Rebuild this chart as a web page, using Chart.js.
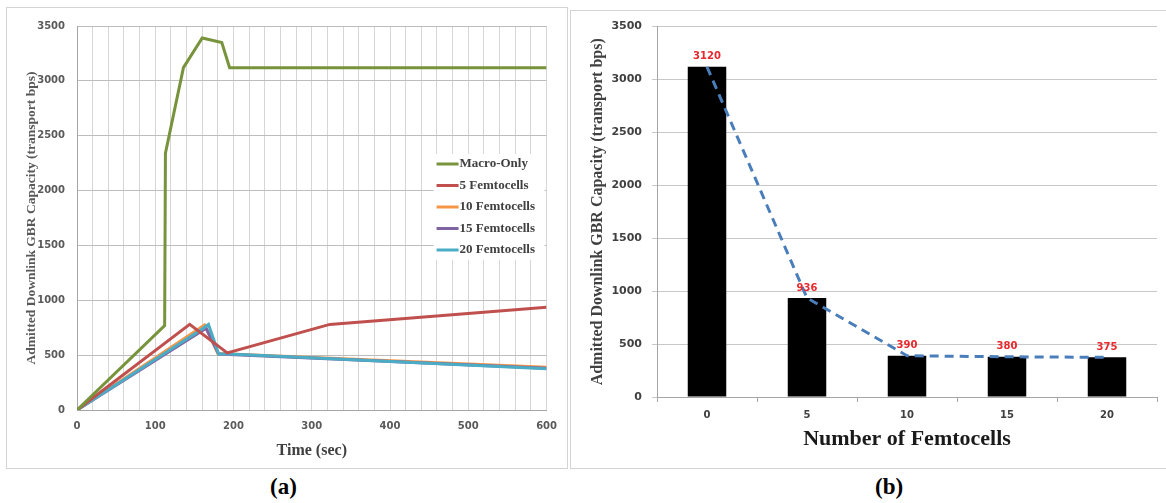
<!DOCTYPE html>
<html>
<head>
<meta charset="utf-8">
<script src="https://cdn.jsdelivr.net/npm/chart.js@4.4.1/dist/chart.umd.min.js"></script>
<style>
  body { margin: 0; background: #fff; width: 1166px; height: 503px; position: relative; overflow: hidden; }
  .box { position: absolute; border: 1px solid #d4d4d4; }
  canvas { position: absolute; }
  .cap { position: absolute; font: bold 23px 'Liberation Serif', serif; color: #000; }
</style>
</head>
<body>
<div class="box" style="left:6px;top:7px;width:560px;height:460px"></div>
<canvas id="timeChart" width="560" height="460" style="left:7px;top:8px"></canvas>
<div class="box" style="left:570px;top:10px;width:600px;height:457px"></div>
<canvas id="femtoChart" width="596" height="458" style="left:570px;top:10px"></canvas>
<div class="cap" style="left:270px;top:474px">(a)</div>
<div class="cap" style="left:875px;top:474px">(b)</div>
<script>
//  (a) admitted capacity over time, one pair of arrays per series
const seriesNames = ['Macro-Only', '5 Femtocells', '10 Femtocells', '15 Femtocells', '20 Femtocells']
const seriesColors = ['#77933C', '#C0504D', '#F79646', '#8064A2', '#4BACC6']
const macroTime = [0, 112, 113, 136, 160, 185, 195, 600]
const macroCap = [0, 770, 2340, 3120, 3390, 3350, 3120, 3120]
const femto5Time = [0, 144, 192, 323, 600]
const femto5Cap = [0, 780, 520, 780, 936]
const femto10Time = [0, 163, 180, 600]
const femto10Cap = [0, 775, 515, 390]
const femto15Time = [0, 165, 181, 600]
const femto15Cap = [0, 745, 510, 380]
const femto20Time = [0, 158, 168, 181, 195, 600]
const femto20Cap = [0, 730, 780, 510, 510, 375]

//  (b) admitted capacity against number of femtocells
const femtoCounts = ['0', '5', '10', '15', '20']
const admittedCap = [3120, 936, 390, 380, 375]

Chart.defaults.font.family = 'DejaVu Sans'
Chart.defaults.animation = false

function toPoints (times, caps) {
  return times.map((t, i) => ({ x: t, y: caps[i] }))
}

//  Legend drawn inside the plot area, on a white box
const insideLegend = {
  id: 'insideLegend',
  afterDatasetsDraw (chart) {
    const { ctx, chartArea } = chart
    const x0 = chartArea.right - 113
    const y0 = chartArea.top + 128
    ctx.save()
    ctx.fillStyle = '#fff'
    ctx.fillRect(x0, y0, 111, 106)
    ctx.font = 'bold 13px "Liberation Serif"'
    ctx.textBaseline = 'middle'
    chart.data.datasets.forEach((ds, i) => {
      const y = y0 + 10 + i * 21.5
      ctx.strokeStyle = ds.borderColor
      ctx.lineWidth = 3
      ctx.beginPath()
      ctx.moveTo(x0 + 3, y)
      ctx.lineTo(x0 + 25, y)
      ctx.stroke()
      ctx.fillStyle = '#404040'
      ctx.fillText(ds.label, x0 + 26, y)
    })
    ctx.restore()
  }
}

const timeSeries = [
  toPoints(macroTime, macroCap),
  toPoints(femto5Time, femto5Cap),
  toPoints(femto10Time, femto10Cap),
  toPoints(femto15Time, femto15Cap),
  toPoints(femto20Time, femto20Cap)
]
const drawOrder = [0, 1, 4, 3, 2]

new Chart(document.getElementById('timeChart'), {
  type: 'scatter',
  data: {
    datasets: timeSeries.map((pts, i) => ({
      label: seriesNames[i],
      data: pts,
      showLine: true,
      borderColor: seriesColors[i],
      backgroundColor: seriesColors[i],
      borderWidth: 3,
      pointRadius: 0,
      order: drawOrder[i]
    }))
  },
  options: {
    responsive: false,
    layout: { padding: { left: 0, top: 13, right: 17, bottom: 0 } },
    plugins: { legend: { display: false }, tooltip: { enabled: false } },
    scales: {
      x: {
        type: 'linear',
        min: 0,
        max: 600,
        afterFit: s => { s.height = 58 },
        grid: { color: '#d6d6d6', drawTicks: false },
        border: { color: '#a6a6a6' },
        ticks: {
          stepSize: 20,
          autoSkip: false,
          maxRotation: 0,
          padding: 10,
          color: '#595959',
          font: { size: 10, weight: 'bold' },
          callback: v => (v % 100 === 0 ? String(v) : '')
        },
        title: {
          display: true,
          text: 'Time (sec)',
          color: '#404040',
          font: { family: 'Liberation Serif', size: 16, weight: 'bold' },
          padding: { top: 0, bottom: 8 }
        }
      },
      y: {
        min: 0,
        max: 3500,
        afterFit: s => { s.width = 70 },
        grid: { color: '#bcbcbc', drawTicks: false },
        border: { color: '#a6a6a6' },
        ticks: {
          stepSize: 500,
          padding: 12,
          color: '#595959',
          font: { size: 10, weight: 'bold' },
          callback: v => String(v)
        },
        title: {
          display: true,
          text: 'Admitted Downlink GBR Capacity (transport bps)',
          color: '#595959',
          font: { family: 'Liberation Serif', size: 13.5, weight: 'bold' },
          padding: { top: 16, bottom: 0 }
        }
      }
    }
  },
  plugins: [insideLegend]
})

//  Red value labels over the bars
const barValueLabels = {
  id: 'barValueLabels',
  afterDatasetsDraw (chart) {
    const { ctx } = chart
    const meta = chart.getDatasetMeta(0)
    ctx.save()
    ctx.font = 'bold 10px "DejaVu Sans"'
    ctx.fillStyle = '#E8282C'
    ctx.textAlign = 'center'
    ctx.textBaseline = 'middle'
    meta.data.forEach((bar, i) => {
      ctx.fillText(chart.data.datasets[0].data[i], bar.x, bar.y - 10)
    })
    ctx.restore()
  }
}

new Chart(document.getElementById('femtoChart'), {
  type: 'bar',
  data: {
    labels: femtoCounts,
    datasets: [
      {
        type: 'bar',
        data: admittedCap,
        backgroundColor: '#000',
        categoryPercentage: 1,
        barPercentage: 0.385,
        order: 1
      },
      {
        type: 'line',
        data: admittedCap,
        borderColor: '#4A7EBB',
        borderWidth: 3,
        borderDash: [9, 6],
        pointRadius: 0,
        fill: false,
        order: 0
      }
    ]
  },
  options: {
    responsive: false,
    layout: { padding: { left: 0, top: 16, right: 9, bottom: 0 } },
    plugins: { legend: { display: false }, tooltip: { enabled: false } },
    scales: {
      x: {
        afterFit: s => { s.height = 71 },
        grid: { display: true, drawOnChartArea: false, drawTicks: true, tickLength: 5, color: '#a6a6a6', offset: true },
        border: { color: '#a6a6a6' },
        ticks: {
          padding: 7,
          color: '#404040',
          font: { size: 10, weight: 'bold' }
        },
        title: {
          display: true,
          text: 'Number of Femtocells',
          color: '#1a1a1a',
          font: { family: 'Liberation Serif', size: 22, weight: 'bold' },
          padding: { top: 0, bottom: 15 }
        }
      },
      y: {
        min: 0,
        max: 3500,
        afterFit: s => { s.width = 87 },
        grid: { color: '#c8c8c8', tickLength: 5 },
        border: { color: '#a6a6a6' },
        ticks: {
          stepSize: 500,
          padding: 10,
          color: '#404040',
          font: { size: 11, weight: 'bold' },
          callback: v => String(v)
        },
        title: {
          display: true,
          text: 'Admitted Downlink GBR Capacity (transport bps)',
          color: '#404040',
          font: { family: 'Liberation Serif', size: 16, weight: 'bold' },
          padding: { top: 18, bottom: 0 }
        }
      }
    }
  },
  plugins: [barValueLabels]
})
</script>
</body>
</html>
